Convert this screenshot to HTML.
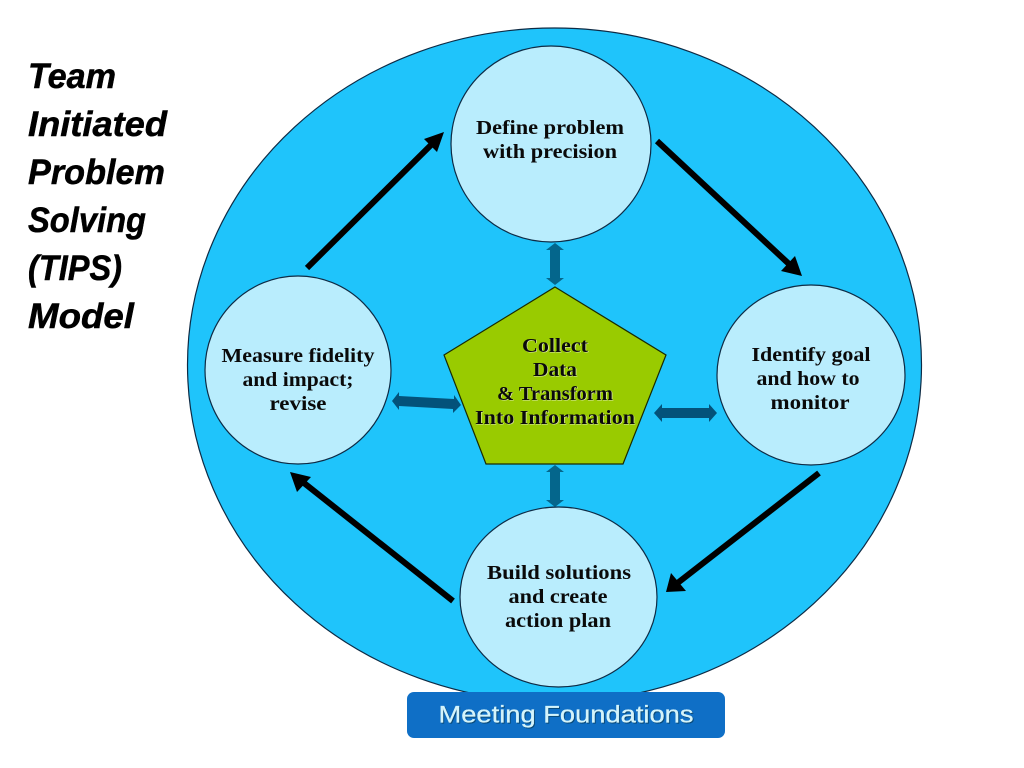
<!DOCTYPE html>
<html><head><meta charset="utf-8"><style>
html,body{margin:0;padding:0;background:#fff;width:1024px;height:768px;overflow:hidden}
svg{display:block}
.t{font:italic bold 35px "Liberation Sans",sans-serif;fill:#000;stroke:#000;stroke-width:.5}
.c{font:bold 19.5px "Liberation Serif",serif;fill:#0a0a0a;text-anchor:middle}
.p{font:bold 20px "Liberation Serif",serif;fill:#0a0a0a;text-anchor:middle}
.ps{font:bold 20px "Liberation Serif",serif;fill:#dfe8b0;text-anchor:middle}
.o{fill:#b9edfd;stroke:#0d2b45;stroke-width:1.2}
.a{stroke:#000;stroke-width:6;fill:none}
</style></head><body>
<svg width="1024" height="768" viewBox="0 0 1024 768" xmlns="http://www.w3.org/2000/svg">
<rect width="1024" height="768" fill="#fff"/>
<ellipse cx="554.5" cy="365" rx="367" ry="337" fill="#1fc4fb" stroke="#0d2b45" stroke-width="1.2"/>

<ellipse class="o" cx="551" cy="144" rx="100" ry="98"/>
<ellipse class="o" cx="811" cy="375" rx="94" ry="90"/>
<ellipse class="o" cx="298" cy="370" rx="93" ry="94"/>
<ellipse class="o" cx="558.5" cy="597" rx="98.5" ry="90"/>

<polygon points="555,287 666,355 623,464 486,464 444,355" fill="#99cb00" stroke="#1a2a00" stroke-width="1.2"/>

<!-- black arrows -->
<line class="a" x1="307" y1="268" x2="431" y2="145"/>
<polygon points="444,132 437,152 424,139" fill="#000"/>
<line class="a" x1="657" y1="141" x2="789" y2="264"/>
<polygon points="802,276 781,271 795,256" fill="#000"/>
<line class="a" x1="819" y1="473" x2="675" y2="585"/>
<polygon points="666,592 671,573 686,591" fill="#000"/>
<line class="a" x1="453" y1="601" x2="304" y2="483"/>
<polygon points="290,472 311,477 297,492" fill="#000"/>

<!-- teal double arrows -->
<polygon points="555,243 564,250 560,250 560,278 564,278 555,285 546,278 550,278 550,250 546,250" fill="#04668c"/>
<polygon points="555,465 564,472 560,472 560,500 564,500 555,507 546,500 550,500 550,472 546,472" fill="#04668c"/>
<polygon points="654,413 662,404 662,408 709,408 709,404 717,413 709,422 709,418 662,418 662,422" fill="#03527a"/>
<polygon points="392,401 399,392 399,396 454,399 454,395 461,405 453,413 453,409 399,406 399,410" fill="#03527a"/>

<!-- labels -->
<text class="t" x="28" y="88" textLength="88" lengthAdjust="spacingAndGlyphs">Team</text>
<text class="t" x="28" y="136" textLength="139" lengthAdjust="spacingAndGlyphs">Initiated</text>
<text class="t" x="28" y="184" textLength="137" lengthAdjust="spacingAndGlyphs">Problem</text>
<text class="t" x="28" y="232" textLength="118" lengthAdjust="spacingAndGlyphs">Solving</text>
<text class="t" x="28" y="280" textLength="94" lengthAdjust="spacingAndGlyphs">(TIPS)</text>
<text class="t" x="28" y="328" textLength="106" lengthAdjust="spacingAndGlyphs">Model</text>

<text class="c" x="550" y="134" textLength="148" lengthAdjust="spacingAndGlyphs">Define problem</text>
<text class="c" x="550" y="158" textLength="134" lengthAdjust="spacingAndGlyphs">with precision</text>

<text class="c" x="811" y="361" textLength="119" lengthAdjust="spacingAndGlyphs">Identify goal</text>
<text class="c" x="808" y="385" textLength="103" lengthAdjust="spacingAndGlyphs">and how to</text>
<text class="c" x="810" y="409" textLength="79" lengthAdjust="spacingAndGlyphs">monitor</text>

<text class="c" x="298" y="362" textLength="153" lengthAdjust="spacingAndGlyphs">Measure fidelity</text>
<text class="c" x="298" y="386" textLength="111" lengthAdjust="spacingAndGlyphs">and impact;</text>
<text class="c" x="298" y="410" textLength="57" lengthAdjust="spacingAndGlyphs">revise</text>

<text class="c" x="559" y="579" textLength="144" lengthAdjust="spacingAndGlyphs">Build solutions</text>
<text class="c" x="558" y="603" textLength="99" lengthAdjust="spacingAndGlyphs">and create</text>
<text class="c" x="558" y="627" textLength="106" lengthAdjust="spacingAndGlyphs">action plan</text>

<text class="ps" x="555.7" y="352.7" textLength="66" lengthAdjust="spacingAndGlyphs">Collect</text>
<text class="ps" x="555.7" y="376.7" textLength="44" lengthAdjust="spacingAndGlyphs">Data</text>
<text class="ps" x="555.7" y="400.7" textLength="116" lengthAdjust="spacingAndGlyphs">&amp; Transform</text>
<text class="ps" x="555.7" y="424.7" textLength="160" lengthAdjust="spacingAndGlyphs">Into Information</text>
<text class="p" x="555" y="352" textLength="66" lengthAdjust="spacingAndGlyphs">Collect</text>
<text class="p" x="555" y="376" textLength="44" lengthAdjust="spacingAndGlyphs">Data</text>
<text class="p" x="555" y="400" textLength="116" lengthAdjust="spacingAndGlyphs">&amp; Transform</text>
<text class="p" x="555" y="424" textLength="160" lengthAdjust="spacingAndGlyphs">Into Information</text>

<rect x="407" y="692" width="318" height="46" rx="7" ry="7" fill="#0f6fc6"/>
<text x="567" y="723.5" text-anchor="middle" font-family="Liberation Sans, sans-serif" font-size="24" fill="#0a4a78" stroke="#0a4a78" stroke-width=".3" textLength="255" lengthAdjust="spacingAndGlyphs">Meeting Foundations</text>
<text x="566" y="722.5" text-anchor="middle" font-family="Liberation Sans, sans-serif" font-size="24" fill="#d4f4fb" stroke="#d4f4fb" stroke-width=".3" textLength="255" lengthAdjust="spacingAndGlyphs">Meeting Foundations</text>
</svg>
</body></html>
